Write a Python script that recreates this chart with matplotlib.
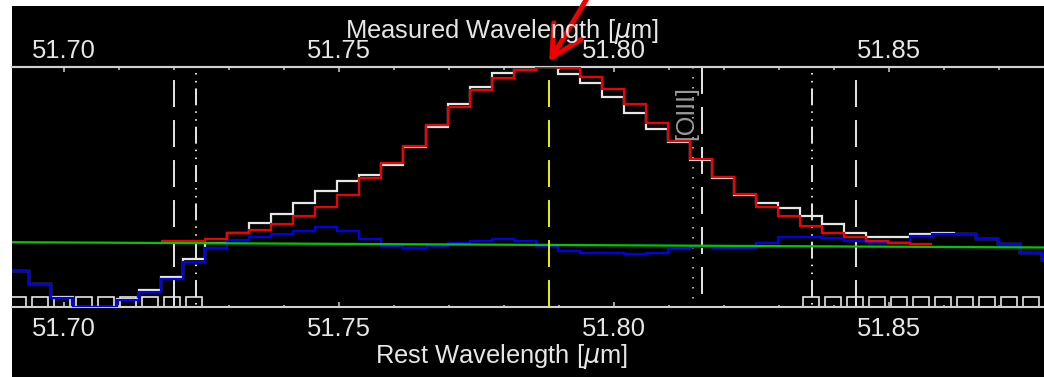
#importing required libraries
import numpy as np
import matplotlib
matplotlib.use('Agg')
import matplotlib.pyplot as plt
from matplotlib.patches import Rectangle
from matplotlib.ticker import MultipleLocator, FormatStrFormatter

plt.rcParams['font.family'] = ['Liberation Sans', 'DejaVu Sans']
plt.rcParams['lines.scale_dashes'] = False

#wavelength bins (micron), 0.004 um wide
bin_start = 51.68973
bin_width = 0.004
n_bins = 48

#observed spectrum, line-subtracted spectrum and line fit (arbitrary flux units)
flux_obs = [15.1, 9.5, 4.3, 0.1, 0.1, 3.3, 7.1, 12.6, 20.0, 26.8, 31.0, 35.1,
            38.6, 43.5, 48.3, 52.6, 55.0, 59.2, 66.5, 75.1, 84.5, 91.5, 97.6, 98.8,
            99.8, 97.0, 93.5, 87.6, 81.0, 74.2, 68.9, 61.3, 53.6, 46.7, 43.5, 41.1,
            37.9, 34.5, 31.0, 29.3, 29.3, 30.4, 31.0, 30.4, 28.3, 26.1, 22.6, 19.6]
flux_resid = [15.1, 9.5, 3.6, 0.1, 0.1, 2.9, 6.4, 11.7, 18.9, 24.5, 27.9, 29.3,
              30.3, 31.8, 33.5, 31.8, 28.3, 25.4, 24.5, 25.4, 26.8, 27.5, 28.3, 27.5,
              25.4, 23.5, 22.6, 22.6, 22.0, 22.6, 24.2, 25.1, 24.5, 24.5, 26.8, 29.3,
              29.3, 28.6, 27.6, 27.0, 27.2, 29.6, 30.4, 30.4, 28.3, 26.1, 22.6, 19.6]
#fit covers bins 7..41
fit_first = 7
flux_fit = [27.6, 27.6, 28.3, 30.7, 32.1, 34.5, 37.9, 41.8, 46.8, 53.6, 59.9, 67.1,
            75.8, 83.5, 90.4, 95.3, 98.8, 99.8, 99.5, 96.0, 90.8, 84.5, 76.8, 69.2,
            61.5, 54.0, 47.1, 41.8, 38.0, 33.8, 31.0, 29.3, 27.6, 26.8, 26.1]

#continuum level
cont_wave = [51.6906, 51.8781]
cont_flux = [27.0, 24.8]

#bins left out of the fit (drawn as squares)
masked_bins = list(range(0, 9)) + list(range(36, 47))

#window and line positions
win_outer = [51.7200, 51.8440]
win_inner = [51.7240, 51.8359]
line_center = 51.7882
oiii_rest = 51.8144
oiii_obs = 51.8159

edges = bin_start + bin_width * np.arange(n_bins + 1)
centers = edges[:-1] + bin_width / 2

fig = plt.figure(figsize=(10.44, 3.77), dpi=100)
fig.patch.set_facecolor('white')
fig.add_artist(Rectangle((12 / 1044, 0), 1, 371 / 377, transform=fig.transFigure,
                         facecolor='black', edgecolor='none', zorder=-10))

ax = fig.add_axes([12 / 1044, 70 / 377, 1032 / 1044, 240 / 377])
ax.set_facecolor('black')
ax.set_xlim(51.6906, 51.8781)
ax.set_ylim(0, 100)

#spectra as histograms
ax.stairs(flux_obs, edges, baseline=None, color='#e6e6e6', lw=1.6, zorder=3)
ax.stairs(flux_resid, edges, baseline=None, color='#0000f0', lw=1.6, zorder=4)
ax.stairs(flux_fit, edges[fit_first:fit_first + len(flux_fit) + 1], baseline=None,
          color='#f00000', lw=1.6, zorder=5)
ax.plot(cont_wave, cont_flux, color='#00c800', lw=1.6, zorder=6)

#masked bins
ax.plot(centers[masked_bins], np.full(len(masked_bins), 1.0), 's', ms=11.2,
        mfc='none', mec='#e6e6e6', mew=1.2, zorder=2)

#vertical markers, drawn from the top down
dashed = (19.4, (19.4, 9.4))
dashdot = (12.2, (12.2, 4.3, 1.1, 4.6, 1.1, 4.3))
for w in win_outer:
    ax.axvline(w, 1, 0, color='#e6e6e6', lw=1.4, ls=dashed, zorder=1)
for w in win_inner:
    ax.axvline(w, 1, 0, color='#e6e6e6', lw=1.4, ls=dashdot, zorder=1)
ax.axvline(oiii_rest, 1, 0, color='#a8a8a8', lw=1.4, ls=(0, (1.1, 6.1)), zorder=1)
ax.axvline(oiii_obs, 1, 0, color='#e6e6e6', lw=1.4, ls=(0, (19.4, 9.4)), zorder=1)
ax.axvline(line_center, 1, 0, color='#f0f000', lw=1.4, ls=dashed, zorder=7)

ax.text(51.8131, 80.6, '[OIII]', rotation=90, ha='center', va='center',
        color='#9a9a9a', fontsize=18)

#axes styling
for side in ['left', 'right']:
    ax.spines[side].set_visible(False)
for side in ['top', 'bottom']:
    ax.spines[side].set_color('#d0d0d0')
    ax.spines[side].set_linewidth(1.5)
ax.set_yticks([])
ax.xaxis.set_major_locator(MultipleLocator(0.05))
ax.xaxis.set_minor_locator(MultipleLocator(0.01))
ax.xaxis.set_major_formatter(FormatStrFormatter('%.2f'))
ax.tick_params(axis='x', which='both', direction='in', colors='#d0d0d0',
               labelcolor='#e6e6e6', labelsize=18.4, width=1.1, pad=7.3)
ax.tick_params(axis='x', which='major', length=3.6)
ax.tick_params(axis='x', which='minor', length=1.8)

top = ax.secondary_xaxis('top')
top.xaxis.set_major_locator(MultipleLocator(0.05))
top.xaxis.set_minor_locator(MultipleLocator(0.01))
top.xaxis.set_major_formatter(FormatStrFormatter('%.2f'))
top.spines['top'].set_color('#d0d0d0')
top.spines['top'].set_linewidth(1.5)
top.tick_params(axis='x', which='both', direction='in', colors='#d0d0d0',
                labelcolor='#e6e6e6', labelsize=18.4, width=1.1, pad=2.6)
top.tick_params(axis='x', which='major', length=3.6)
top.tick_params(axis='x', which='minor', length=1.8)

fig.text(502 / 1044, 339 / 377, r'Measured Wavelength [$\mu$m]', ha='center',
         va='baseline', color='#e6e6e6', fontsize=18.4)
fig.text(502 / 1044, 14 / 377, r'Rest Wavelength [$\mu$m]', ha='center',
         va='baseline', color='#e6e6e6', fontsize=18.4)

#arrow pointing at the line peak
ax.annotate('', xy=(line_center, 1.021), xycoords=('data', 'axes fraction'),
            xytext=(589 / 1044, 382 / 377), textcoords='figure fraction',
            arrowprops=dict(arrowstyle='->,head_length=2.2,head_width=1.15',
                            color='#f00000', lw=3.6, shrinkA=0, shrinkB=0),
            annotation_clip=False, zorder=10)

#saving the generated plot
fig.savefig('out.png', dpi=100, facecolor=fig.get_facecolor())
